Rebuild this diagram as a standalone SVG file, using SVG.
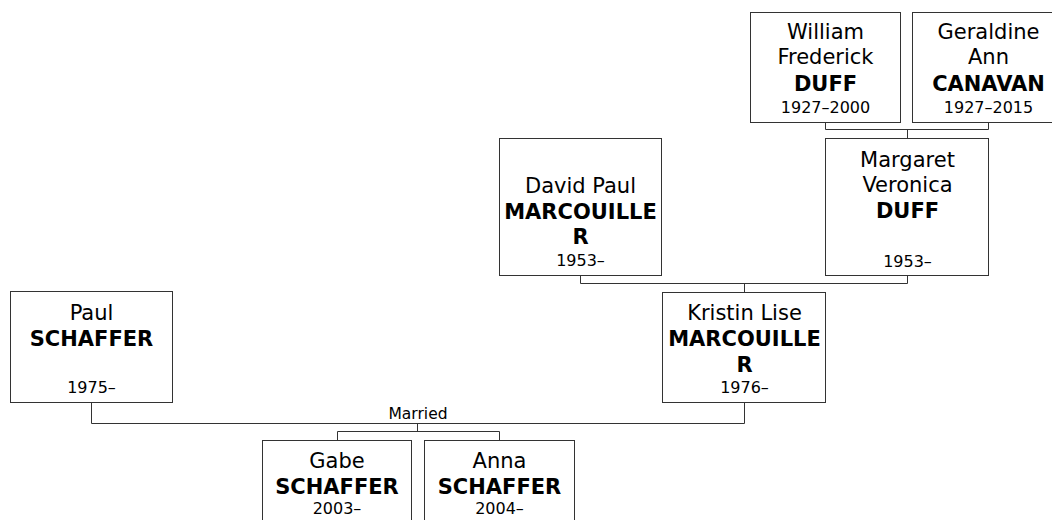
<svg xmlns="http://www.w3.org/2000/svg" width="1052" height="520" viewBox="0 0 1052 520">
<style>
.box{fill:#fff;stroke:#333;stroke-width:1}
.ln{fill:none;stroke:#333;stroke-width:1}
text{font-family:"DejaVu Sans",Verdana,sans-serif;text-anchor:middle;fill:#000}
.n{font-size:21px}
.s{font-size:21px;font-weight:bold}
.d{font-size:16px}
.m{font-size:15.5px}
</style>
<rect width="1052" height="520" fill="#fff"/>
<g id="connectors">
<path class="ln" d="M825.5,123 V129.5 H988.5 V123 M907.5,129.5 V138.5"/>
<path class="ln" d="M580.5,276 V283.5 H907.5 V276 M744.5,283.5 V292"/>
<path class="ln" d="M91.5,403 V423.5 H744.5 V403 M417.5,423.5 V431.5 M337.5,440 V431.5 H499.5 V440"/>
<text class="m" x="418" y="419">Married</text>
</g>
<g id="william">
<rect class="box" x="750.5" y="12.5" width="150" height="110"/>
<text x="825.5" y="39" class="n">William</text>
<text x="825.5" y="64" class="n">Frederick</text>
<text x="825.5" y="91" class="s">DUFF</text>
<text x="825.5" y="113" class="d">1927–2000</text>
</g>
<g id="geraldine">
<rect class="box" x="912.5" y="12.5" width="152" height="110"/>
<text x="988.5" y="39" class="n">Geraldine</text>
<text x="988.5" y="64" class="n">Ann</text>
<text x="988.5" y="91" class="s">CANAVAN</text>
<text x="988.5" y="113" class="d">1927–2015</text>
</g>
<g id="margaret">
<rect class="box" x="825.5" y="138.5" width="163" height="137"/>
<text x="907.5" y="167" class="n">Margaret</text>
<text x="907.5" y="192" class="n">Veronica</text>
<text x="907.5" y="218" class="s">DUFF</text>
<text x="907.5" y="267" class="d">1953–</text>
</g>
<g id="david">
<rect class="box" x="499.5" y="138.5" width="162" height="137"/>
<text x="580.5" y="193" class="n">David Paul</text>
<text x="580.5" y="219" class="s">MARCOUILLE</text>
<text x="580.5" y="244" class="s">R</text>
<text x="580.5" y="266" class="d">1953–</text>
</g>
<g id="kristin">
<rect class="box" x="662.5" y="292.5" width="163" height="110"/>
<text x="744.5" y="320" class="n">Kristin Lise</text>
<text x="744.5" y="346" class="s">MARCOUILLE</text>
<text x="744.5" y="372" class="s">R</text>
<text x="744.5" y="393" class="d">1976–</text>
</g>
<g id="paul">
<rect class="box" x="10.5" y="291.5" width="162" height="111"/>
<text x="91.5" y="320" class="n">Paul</text>
<text x="91.5" y="346" class="s">SCHAFFER</text>
<text x="91.5" y="393" class="d">1975–</text>
</g>
<g id="gabe">
<rect class="box" x="262.5" y="440.5" width="149" height="100"/>
<text x="337" y="468" class="n">Gabe</text>
<text x="337" y="494" class="s">SCHAFFER</text>
<text x="337" y="514" class="d">2003–</text>
</g>
<g id="anna">
<rect class="box" x="424.5" y="440.5" width="150" height="100"/>
<text x="499.5" y="468" class="n">Anna</text>
<text x="499.5" y="494" class="s">SCHAFFER</text>
<text x="499.5" y="514" class="d">2004–</text>
</g>
</svg>
